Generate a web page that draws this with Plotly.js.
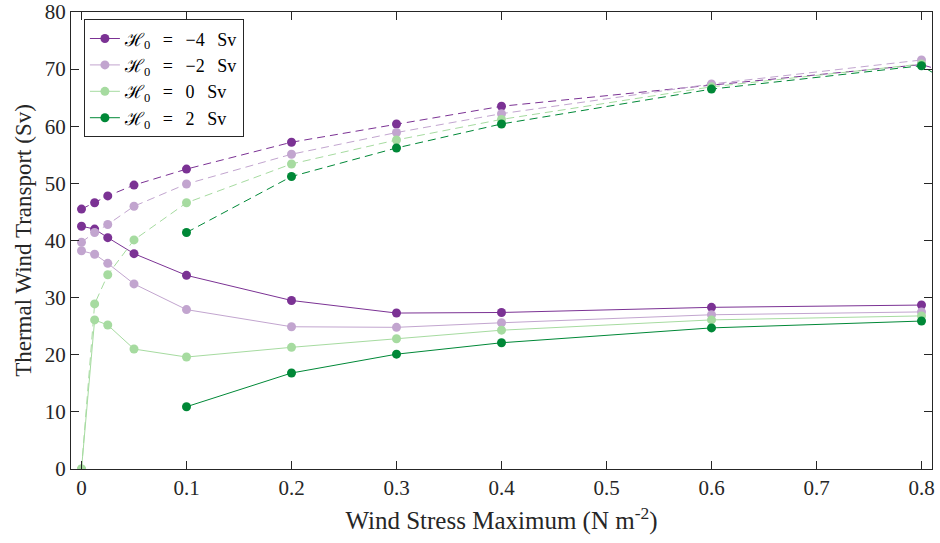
<!DOCTYPE html>
<html>
<head>
<meta charset="utf-8">
<script src="https://cdn.plot.ly/plotly-3.0.1.min.js"></script>
<style>
  html, body { margin: 0; padding: 0; background: #ffffff; }
  #chart { width: 940px; height: 543px; }
</style>
</head>
<body>
<div id="chart"></div>
<script>
// Wind stress maximum (N m^-2)
const xFull = [0, 0.0125, 0.025, 0.05, 0.1, 0.2, 0.3, 0.4, 0.6, 0.8];
const xFullExt = [0, 0.0125, 0.025, 0.05, 0.1, 0.2, 0.3, 0.4, 0.6, 0.8, 1.0];
const xFromTenth = [0.1, 0.2, 0.3, 0.4, 0.6, 0.8];
const xFromTenthExt = [0.1, 0.2, 0.3, 0.4, 0.6, 0.8, 1.0];

// Thermal wind transport (Sv), H0 = -4 Sv
const hm4Upper = [45.5, 46.6, 47.8, 49.7, 52.5, 57.2, 60.4, 63.5, 67.2, 70.8, 60.0];
const hm4Lower = [42.5, 42.0, 40.5, 37.7, 33.9, 29.5, 27.3, 27.4, 28.3, 28.7];

// H0 = -2 Sv
const hm2Upper = [39.7, 41.4, 42.8, 46.0, 49.9, 55.1, 58.9, 62.2, 67.4, 71.6];
const hm2Lower = [38.2, 37.6, 36.0, 32.4, 27.9, 24.9, 24.8, 25.6, 27.0, 27.5];

// H0 = 0 Sv
const h0Upper = [0, 28.9, 34.0, 40.1, 46.6, 53.4, 57.6, 61.2, 66.9, 70.9];
const h0Lower = [0, 26.1, 25.2, 21.0, 19.6, 21.3, 22.8, 24.3, 26.1, 26.8];

// H0 = 2 Sv (branches begin at 0.1)
const h2Upper = [41.4, 51.2, 56.2, 60.4, 66.5, 70.6, 48.0];
const h2Lower = [10.9, 16.8, 20.1, 22.1, 24.7, 25.9];

const SP = '\u2002\u2009';
const seriesNames = [
  '\u210B<sub>0</sub>' + SP + '=' + SP + '\u22124' + SP + 'Sv',
  '\u210B<sub>0</sub>' + SP + '=' + SP + '\u22122' + SP + 'Sv',
  '\u210B<sub>0</sub>' + SP + '=' + SP + '0' + SP + 'Sv',
  '\u210B<sub>0</sub>' + SP + '=' + SP + '2' + SP + 'Sv'
];
const seriesColors = ['#7b3294', '#c2a5cf', '#a6dba0', '#008837'];

const xTicks = [0, 0.1, 0.2, 0.3, 0.4, 0.5, 0.6, 0.7, 0.8];
const xTickText = ['0', '0.1', '0.2', '0.3', '0.4', '0.5', '0.6', '0.7', '0.8'];
const yTicks = [0, 10, 20, 30, 40, 50, 60, 70, 80];

const groups = [
  {xu: xFullExt, yu: hm4Upper, xl: xFull, yl: hm4Lower},
  {xu: xFull, yu: hm2Upper, xl: xFull, yl: hm2Lower},
  {xu: xFull, yu: h0Upper, xl: xFull, yl: h0Lower},
  {xu: xFromTenthExt, yu: h2Upper, xl: xFromTenth, yl: h2Lower}
];

const traces = [];
groups.forEach((g, i) => {
  const c = seriesColors[i];
  // unstable (dashed) branch
  traces.push({
    x: g.xu, y: g.yu, type: 'scatter', mode: 'lines+markers',
    name: seriesNames[i], legendgroup: 'g' + i, showlegend: false,
    line: {color: c, width: 1, dash: '8px,5px'},
    marker: {color: c, size: 9}
  });
  // stable (solid) branch
  traces.push({
    x: g.xl, y: g.yl, type: 'scatter', mode: 'lines+markers',
    name: seriesNames[i], legendgroup: 'g' + i, showlegend: true,
    line: {color: c, width: 1},
    marker: {color: c, size: 9}
  });
});

const SERIF = 'Liberation Serif, Times New Roman, serif';
const axisCommon = {
  showgrid: false, zeroline: false,
  showline: true, linecolor: '#262626', linewidth: 1,
  mirror: 'ticks', ticks: 'inside', ticklen: 8, tickcolor: '#262626', tickwidth: 1,
  tickfont: {family: SERIF, size: 21, color: '#262626'}
};

const layout = {
  width: 940, height: 543,
  margin: {l: 71, r: 8, t: 12, b: 74},
  paper_bgcolor: '#ffffff', plot_bgcolor: '#ffffff',
  font: {family: SERIF, color: '#262626'},
  xaxis: Object.assign({}, axisCommon, {
    range: [-0.01, 0.81],
    tickvals: xTicks, ticktext: xTickText,
    title: {text: 'Wind Stress Maximum (N m<sup>-2</sup>)', font: {family: SERIF, size: 25, color: '#262626'}, standoff: 12}
  }),
  yaxis: Object.assign({}, axisCommon, {
    range: [0, 80],
    tickvals: yTicks,
    title: {text: 'Thermal Wind Transport (Sv)', font: {family: SERIF, size: 23, color: '#262626'}, standoff: 6}
  }),
  legend: {
    x: 0.015, y: 0.984, xanchor: 'left', yanchor: 'top',
    bgcolor: '#ffffff', bordercolor: '#262626', borderwidth: 1,
    font: {family: SERIF, size: 18, color: '#000000'},
    tracegroupgap: 0
  },
  showlegend: true
};

Plotly.newPlot('chart', traces, layout, {displayModeBar: false, staticPlot: true});
</script>
</body>
</html>
